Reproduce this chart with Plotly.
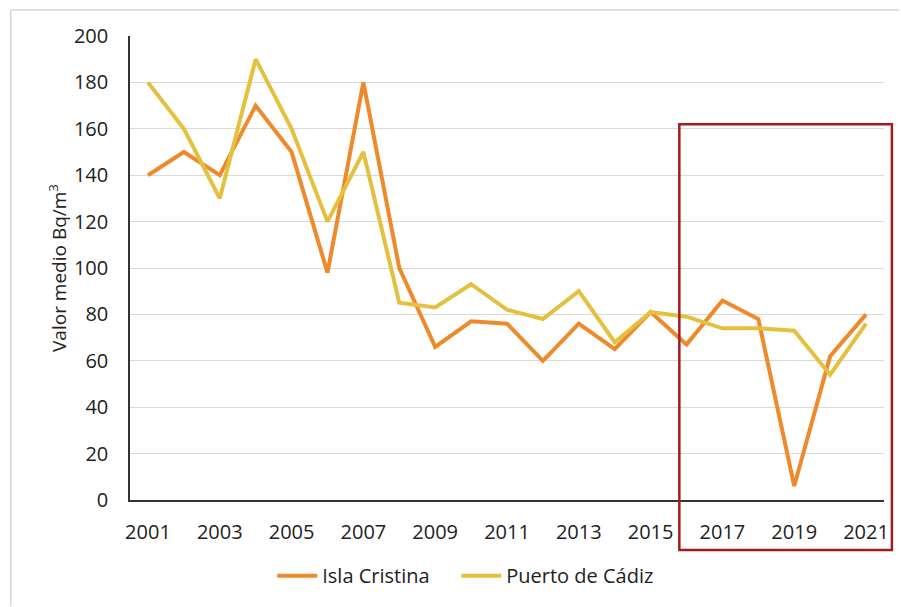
import plotly.graph_objects as go

years = list(range(2001, 2022))
isla_cristina = [140, 150, 140, 170, 150, 98, 180, 100, 66, 77, 76, 60, 76, 65, 81, 67, 86, 78, 6, 62, 80]
puerto_cadiz = [180, 160, 130, 190, 160, 120, 150, 85, 83, 93, 82, 78, 90, 68, 81, 79, 74, 74, 73, 54, 76]
tick_years = [2001, 2003, 2005, 2007, 2009, 2011, 2013, 2015, 2017, 2019, 2021]
y_ticks = list(range(0, 201, 20))

# highlighted region (data units)
hl_x = (2015.8, 2021.72)
hl_y = (-21.5, 162)

x_range = [2000.5, 2021.5]
y_range = [0, 200]

W, H = 901, 607
ml, mr, mt, mb = 130, 13, 36, 105
PW, PH = W - ml - mr, H - mt - mb


def paper_x(v):
    return (v - x_range[0]) / (x_range[1] - x_range[0])


def paper_y(v):
    return (v - y_range[0]) / (y_range[1] - y_range[0])


def pix_x(p):
    return (p - ml) / PW


def pix_y(p):
    return (H - mb - p) / PH


font = "Open Sans, Liberation Sans, Arial, sans-serif"

fig = go.Figure()
fig.add_trace(go.Scatter(x=years, y=isla_cristina, mode="lines", name="Isla Cristina",
                         line=dict(color="#EE8A2C", width=4), legend="legend"))
fig.add_trace(go.Scatter(x=years, y=puerto_cadiz, mode="lines", name="Puerto de Cádiz",
                         line=dict(color="#E4C03F", width=4), legend="legend2"))

legend_common = dict(orientation="h", xanchor="left", yanchor="middle", y=pix_y(578),
                     font=dict(size=20), itemwidth=40, bgcolor="rgba(0,0,0,0)")

fig.update_layout(
    width=W, height=H,
    margin=dict(l=ml, r=mr, t=mt, b=mb),
    paper_bgcolor="white", plot_bgcolor="white",
    font=dict(family=font, size=20, color="#222222"),
    showlegend=True,
    legend=dict(x=pix_x(273), **legend_common),
    legend2=dict(x=pix_x(458), **legend_common),
    xaxis=dict(range=x_range, tickvals=tick_years, showgrid=False, showline=True,
               linecolor="#333333", linewidth=1.5, ticks="outside", ticklen=13,
               tickcolor="rgba(0,0,0,0)", zeroline=False,
               tickfont=dict(size=20)),
    yaxis=dict(range=y_range, tickvals=y_ticks, showgrid=True, gridcolor="#D9D9D9",
               gridwidth=1, showline=True, linecolor="#333333", linewidth=1.5,
               zeroline=False, ticks="outside", ticklen=16, tickcolor="rgba(0,0,0,0)",
               tickfont=dict(size=20),
               title=dict(text="Valor medio Bq/m<sup>3</sup>", font=dict(size=19), standoff=2)),
    shapes=[
        dict(type="rect", xref="paper", yref="paper",
             x0=paper_x(hl_x[0]), x1=paper_x(hl_x[1]), y0=paper_y(hl_y[0]), y1=paper_y(hl_y[1]),
             line=dict(color="#A31B1E", width=2.5), fillcolor="rgba(0,0,0,0)", layer="above"),
        dict(type="line", xref="paper", yref="paper",
             x0=pix_x(10), x1=pix_x(W + 2), y0=pix_y(10), y1=pix_y(10),
             line=dict(color="#D6D6D6", width=1.5), layer="below"),
        dict(type="line", xref="paper", yref="paper",
             x0=pix_x(10), x1=pix_x(10), y0=pix_y(10), y1=pix_y(H + 2),
             line=dict(color="#D6D6D6", width=1.5), layer="below"),
    ],
)

fig.write_html("out.html", config={"displayModeBar": False},
               post_script="document.body.style.margin='0';document.body.style.overflow='hidden';")
